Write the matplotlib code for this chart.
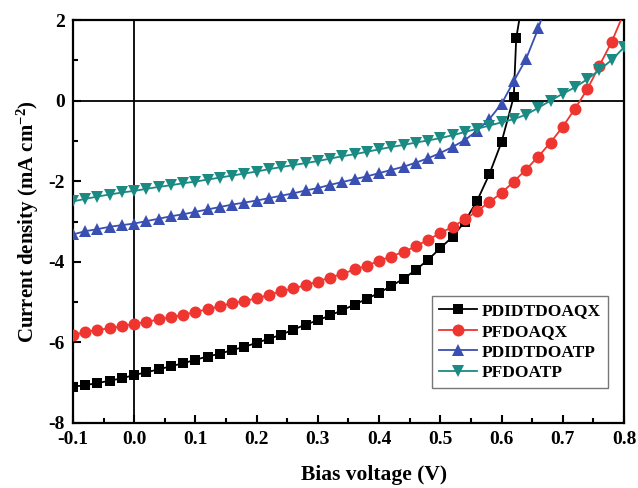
import matplotlib
matplotlib.use("Agg")
import matplotlib.pyplot as plt
from matplotlib.ticker import MultipleLocator

# ---- data ----
v_aqx1 = [-0.10, -0.08, -0.06, -0.04, -0.02, 0.00, 0.02, 0.04, 0.06, 0.08,
          0.10, 0.12, 0.14, 0.16, 0.18, 0.20, 0.22, 0.24, 0.26, 0.28,
          0.30, 0.32, 0.34, 0.36, 0.38, 0.40, 0.42, 0.44, 0.46, 0.48,
          0.50, 0.52, 0.54, 0.56, 0.58, 0.60, 0.62, 0.624, 0.64]
j_aqx1 = [-7.10, -7.06, -7.01, -6.95, -6.89, -6.81, -6.74, -6.67, -6.59, -6.52,
          -6.43, -6.35, -6.28, -6.19, -6.11, -6.01, -5.91, -5.81, -5.68, -5.56,
          -5.45, -5.33, -5.20, -5.06, -4.92, -4.77, -4.60, -4.42, -4.20, -3.95,
          -3.66, -3.38, -3.00, -2.49, -1.83, -1.03, 0.10, 1.55, 3.00]

v_aqx2 = [-0.10, -0.08, -0.06, -0.04, -0.02, 0.00, 0.02, 0.04, 0.06, 0.08,
          0.10, 0.12, 0.14, 0.16, 0.18, 0.20, 0.22, 0.24, 0.26, 0.28,
          0.30, 0.32, 0.34, 0.36, 0.38, 0.40, 0.42, 0.44, 0.46, 0.48,
          0.50, 0.52, 0.54, 0.56, 0.58, 0.60, 0.62, 0.64, 0.66, 0.68,
          0.70, 0.72, 0.74, 0.76, 0.78, 0.80]
j_aqx2 = [-5.82, -5.74, -5.69, -5.65, -5.60, -5.54, -5.49, -5.43, -5.38, -5.32,
          -5.24, -5.18, -5.10, -5.03, -4.97, -4.91, -4.82, -4.73, -4.66, -4.58,
          -4.49, -4.39, -4.30, -4.19, -4.10, -3.97, -3.87, -3.75, -3.62, -3.45,
          -3.29, -3.13, -2.95, -2.74, -2.52, -2.29, -2.01, -1.71, -1.39, -1.04,
          -0.65, -0.20, 0.28, 0.87, 1.46, 2.18]

v_atp1 = [-0.10, -0.08, -0.06, -0.04, -0.02, 0.00, 0.02, 0.04, 0.06, 0.08,
          0.10, 0.12, 0.14, 0.16, 0.18, 0.20, 0.22, 0.24, 0.26, 0.28,
          0.30, 0.32, 0.34, 0.36, 0.38, 0.40, 0.42, 0.44, 0.46, 0.48,
          0.50, 0.52, 0.54, 0.56, 0.58, 0.60, 0.62, 0.64, 0.66, 0.68]
j_atp1 = [-3.32, -3.24, -3.19, -3.13, -3.09, -3.05, -2.99, -2.93, -2.87, -2.82,
          -2.76, -2.70, -2.64, -2.58, -2.53, -2.48, -2.42, -2.36, -2.30, -2.23,
          -2.17, -2.09, -2.02, -1.95, -1.88, -1.80, -1.72, -1.64, -1.54, -1.43,
          -1.30, -1.15, -0.98, -0.75, -0.46, -0.08, 0.48, 1.03, 1.79, 2.70]

v_atp2 = [-0.10, -0.08, -0.06, -0.04, -0.02, 0.00, 0.02, 0.04, 0.06, 0.08,
          0.10, 0.12, 0.14, 0.16, 0.18, 0.20, 0.22, 0.24, 0.26, 0.28,
          0.30, 0.32, 0.34, 0.36, 0.38, 0.40, 0.42, 0.44, 0.46, 0.48,
          0.50, 0.52, 0.54, 0.56, 0.58, 0.60, 0.62, 0.64, 0.66, 0.68,
          0.70, 0.72, 0.74, 0.76, 0.78, 0.80]
j_atp2 = [-2.50, -2.44, -2.38, -2.33, -2.28, -2.24, -2.19, -2.14, -2.10, -2.05,
          -2.01, -1.96, -1.91, -1.86, -1.81, -1.76, -1.70, -1.65, -1.60, -1.55,
          -1.50, -1.44, -1.38, -1.33, -1.27, -1.21, -1.15, -1.10, -1.04, -0.99,
          -0.93, -0.86, -0.78, -0.70, -0.62, -0.54, -0.46, -0.35, -0.18, 0.00,
          0.17, 0.33, 0.53, 0.76, 1.01, 1.32]

labels = ["PDIDTDOAQX", "PFDOAQX", "PDIDTDOATP", "PFDOATP"]
colors = ["#000000", "#EE3530", "#3A4FB2", "#1A8A82"]
markers = ["s", "o", "^", "v"]
msizes = [6.8, 8.6, 8.6, 8.6]

x_ticks = [-0.1, 0.0, 0.1, 0.2, 0.3, 0.4, 0.5, 0.6, 0.7, 0.8]
y_ticks = [-8, -6, -4, -2, 0, 2]

plt.rcParams["font.family"] = ["Liberation Serif", "DejaVu Serif"]
plt.rcParams["font.weight"] = "bold"
plt.rcParams["mathtext.fontset"] = "custom"
plt.rcParams["mathtext.rm"] = "Liberation Serif:bold"
plt.rcParams["mathtext.default"] = "rm"

fig = plt.figure(figsize=(6.38, 4.88), dpi=100)
ax = fig.add_axes([0.1144, 0.1332, 0.8636, 0.8258])

series = [(v_aqx1, j_aqx1), (v_aqx2, j_aqx2), (v_atp1, j_atp1), (v_atp2, j_atp2)]
ax.axhline(0, color="black", lw=1.3, zorder=1)
ax.axvline(0, color="black", lw=1.3, zorder=1)
for (v, j), lab, c, m, ms in zip(series, labels, colors, markers, msizes):
    ax.plot(v, j, color=c, marker=m, markersize=ms, lw=1.3, label=lab,
            markeredgewidth=0, zorder=3)

ax.set_xlim(-0.1, 0.8)
ax.set_ylim(-8, 2)
ax.set_xticks(x_ticks)
ax.set_xticklabels([f"{t:.1f}" for t in x_ticks])
ax.set_yticks(y_ticks)
ax.set_yticklabels([str(t) for t in y_ticks])
ax.xaxis.set_minor_locator(MultipleLocator(0.05))
ax.yaxis.set_minor_locator(MultipleLocator(1))
ax.tick_params(which="both", direction="in", top=False, right=False,
               width=1.5, labelsize=14, pad=6)
ax.tick_params(which="major", length=6)
ax.tick_params(which="minor", length=3.5)
for s in ax.spines.values():
    s.set_linewidth(1.6)

ax.set_xlabel("Bias voltage (V)", fontsize=15.5, fontweight="bold")
ax.xaxis.set_label_coords(0.546, -0.105)
ax.set_ylabel("Current density (mA cm$^{-2}$)", fontsize=15,
              fontweight="bold", labelpad=5)

leg = ax.legend(loc="lower right", bbox_to_anchor=(0.971, 0.087),
                fontsize=12.5, frameon=True, fancybox=False,
                handlelength=2.2, handletextpad=0.3, borderpad=0.4,
                labelspacing=0.25, borderaxespad=0)
leg.get_frame().set_edgecolor("#555555")
leg.get_frame().set_linewidth(1.0)
for t in leg.get_texts():
    t.set_fontweight("bold")

fig.savefig("out.png", dpi=100)
